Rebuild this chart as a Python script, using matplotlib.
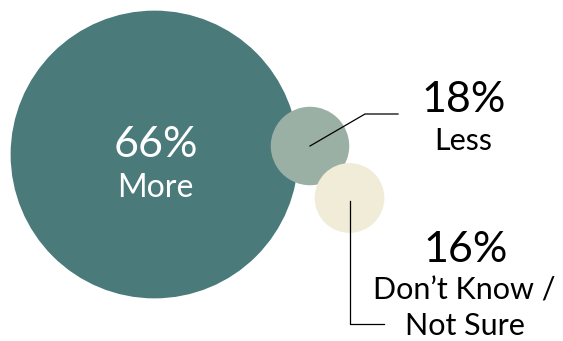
import matplotlib.pyplot as plt
from matplotlib.patches import Circle

# share of answers
labels = ["More", "Less", "Don\u2019t Know /\nNot Sure"]
values = [66, 18, 16]
colors = ["#4a7a7a", "#9bb0a5", "#f1ecd8"]

# bubble centres in pixel space, radius grows with the value
centres = [(154.5, 154.5), (310, 146), (349.5, 198)]
scale = 2.18

plt.rcParams["font.family"] = ["Lato", "DejaVu Sans"]

fig = plt.figure(figsize=(5.63, 3.41), dpi=100)
ax = fig.add_axes([0, 0, 1, 1])
ax.set_xlim(0, 563)
ax.set_ylim(341, 0)
ax.set_aspect("equal")
ax.axis("off")

for (cx, cy), v, c in zip(centres, values, colors):
    ax.add_patch(Circle((cx, cy), v * scale, color=c, lw=0, zorder=1))

# big bubble: label inside
ax.text(155.5, 157, f"{values[0]}%", color="white", fontsize=31,
        ha="center", va="baseline", zorder=3)
ax.text(155.5, 197, labels[0], color="white", fontsize=23,
        ha="center", va="baseline", zorder=3)

# leader for "Less"
ax.plot([310, 365, 398], [146, 114, 114], color="black", lw=0.9, zorder=2)
ax.text(464, 112.5, f"{values[1]}%", color="black", fontsize=31,
        ha="center", va="baseline")
ax.text(463, 150, labels[1], color="black", fontsize=22,
        ha="center", va="baseline")

# leader for "Don't Know / Not Sure"
ax.plot([349.5, 349.5, 383.5], [201, 323.5, 323.5], color="black", lw=0.9, zorder=2)
ax.text(466, 262, f"{values[2]}%", color="black", fontsize=31,
        ha="center", va="baseline")
lines = labels[2].split("\n")
ax.text(464, 299.5, lines[0], color="black", fontsize=22,
        ha="center", va="baseline")
ax.text(465, 335, lines[1], color="black", fontsize=22,
        ha="center", va="baseline")

fig.savefig("out.png", dpi=100)
plt.close(fig)
